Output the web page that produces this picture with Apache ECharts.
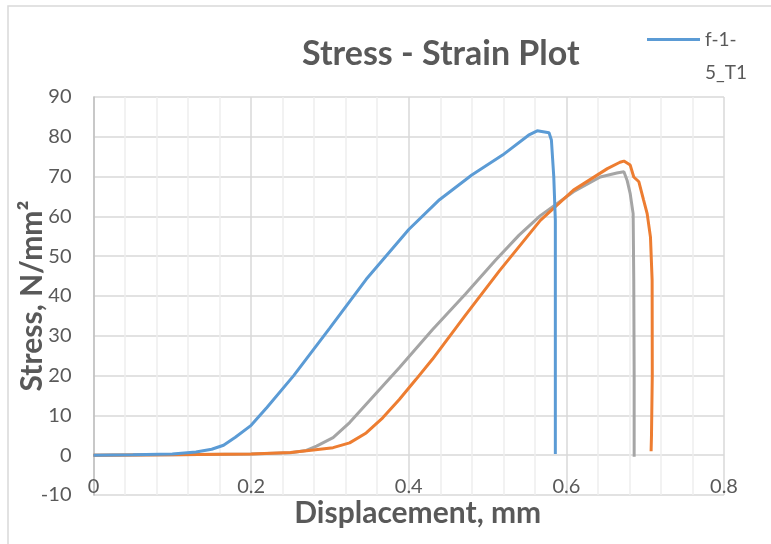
<!DOCTYPE html>
<html>

<head>
    <meta charset="utf-8">
    <title>Stress - Strain Plot</title>
    <script src="https://cdn.jsdelivr.net/npm/echarts@6/dist/echarts.min.js"></script>
</head>

<body style="margin:0;background:#fff;">
    <div id="main" style="width: 771px;height:544px;"></div>
    <script type="text/javascript">
        // data (displacement in mm, stress in N/mm2)
        var blueX = [0, 0.05, 0.1, 0.13, 0.15, 0.165, 0.18, 0.2, 0.22, 0.254, 0.3, 0.346, 0.4, 0.439, 0.48, 0.519, 0.552, 0.563, 0.578, 0.581, 0.584, 0.586, 0.586];
        var blueY = [0, 0.1, 0.3, 0.8, 1.5, 2.5, 4.5, 7.5, 12, 20, 32, 44.2, 56.7, 64.2, 70.4, 75.4, 80.4, 81.5, 81, 79.2, 70, 59, 0.3];

        var orangeX = [0, 0.1, 0.2, 0.25, 0.279, 0.304, 0.325, 0.346, 0.367, 0.388, 0.409, 0.43, 0.472, 0.515, 0.567, 0.609, 0.652, 0.668, 0.673, 0.681, 0.6855, 0.692, 0.698, 0.7025, 0.7067, 0.7088, 0.709, 0.708, 0.7075];
        var orangeY = [0, 0.1, 0.3, 0.7, 1.3, 1.9, 3.1, 5.6, 9.4, 14, 19, 24.1, 35.2, 46.3, 59, 66.6, 72, 73.6, 73.9, 72.9, 69.9, 68.7, 64.1, 60.7, 54.8, 44, 20, 5, 1];

        var grayX = [0, 0.1, 0.2, 0.25, 0.27, 0.283, 0.304, 0.325, 0.346, 0.367, 0.388, 0.43, 0.472, 0.51, 0.54, 0.567, 0.609, 0.643, 0.664, 0.673, 0.677, 0.681, 0.6847, 0.6855, 0.686, 0.686];
        var grayY = [0, 0.1, 0.3, 0.6, 1.2, 2.3, 4.4, 8.2, 12.8, 17.4, 22, 31.5, 40.5, 49, 55.3, 60.2, 66.2, 69.9, 70.9, 71.2, 69.1, 65.7, 60.7, 44, 20, -0.4];

        var seriesNames = ['f-1-5_T1', 'f-1-5_T2', 'f-1-5_T3'];
        var seriesColors = ['#5B9BD5', '#ED7D31', '#A5A5A5'];

        function pairs(xs, ys) {
            return xs.map(function (x, i) { return [x, ys[i]]; });
        }

        var font = 'Lato';
        var textColor = '#595959';

        var myChart = echarts.init(document.getElementById('main'));

        var allData = [pairs(blueX, blueY), pairs(orangeX, orangeY), pairs(grayX, grayY)];

        myChart.setOption({
            animation: false,
            backgroundColor: '#fff',
            textStyle: { fontFamily: font },
            title: {
                text: 'Stress - Strain Plot',
                left: 302,
                top: 37,
                padding: 0,
                textStyle: { fontFamily: font, fontSize: 34, fontWeight: 'bold', color: textColor }
            },
            legend: {
                data: [seriesNames[0]],
                left: 647,
                top: -10,
                padding: 0,
                itemWidth: 53,
                itemHeight: 3,
                itemGap: 5,
                icon: 'rect',
                // blank first line so the icon sits beside "f-1-"
                formatter: function () { return ' \nf-1-\n5_T1'; },
                textStyle: { fontFamily: font, fontSize: 19, color: textColor, lineHeight: 33 }
            },
            graphic: [{
                type: 'rect',
                shape: { x: 8, y: 6, width: 900, height: 700 },
                style: { fill: 'none', stroke: '#d9d9d9', lineWidth: 1.5 },
                silent: true
            }],
            grid: { left: 93.5, right: 47, top: 97, bottom: 49, outerBoundsMode: 'none', containLabel: false },
            xAxis: {
                type: 'value',
                min: 0,
                max: 0.8,
                interval: 0.2,
                name: 'Displacement, mm',
                nameLocation: 'middle',
                nameGap: 3,
                nameMoveOverlap: false,
                nameTextStyle: { fontFamily: font, fontSize: 30, fontWeight: 'bold', color: textColor, padding: [0, 0, 0, 18] },
                axisLine: { show: false, onZero: false },
                axisTick: { show: false },
                axisLabel: { margin: -18, fontFamily: font, fontSize: 20, color: textColor },
                splitLine: { show: true, lineStyle: { color: '#D9D9D9', width: 1.5 } },
                minorTick: { show: false, splitNumber: 5 },
                minorSplitLine: { show: true, lineStyle: { color: '#EEEEEE', width: 1.5 } }
            },
            yAxis: {
                type: 'value',
                min: -10,
                max: 90,
                interval: 10,
                name: 'Stress, N/mm²',
                nameLocation: 'middle',
                nameGap: 46,
                nameMoveOverlap: false,
                nameTextStyle: { fontFamily: font, fontSize: 30, fontWeight: 'bold', color: textColor },
                axisLine: { show: true, onZero: false, lineStyle: { color: '#BFBFBF', width: 1.5 } },
                axisTick: { show: false },
                axisLabel: { margin: 22, fontFamily: font, fontSize: 20, color: textColor },
                splitLine: { show: true, lineStyle: { color: '#D9D9D9', width: 1.5 } }
            },
            series: allData.map(function (d, i) {
                return {
                    name: seriesNames[i],
                    type: 'line',
                    data: d,
                    showSymbol: false,
                    symbol: 'none',
                    z: 3 - i,
                    lineStyle: { color: seriesColors[i], width: 3 },
                    itemStyle: { color: seriesColors[i] }
                };
            })
        });
    </script>
</body>

</html>
